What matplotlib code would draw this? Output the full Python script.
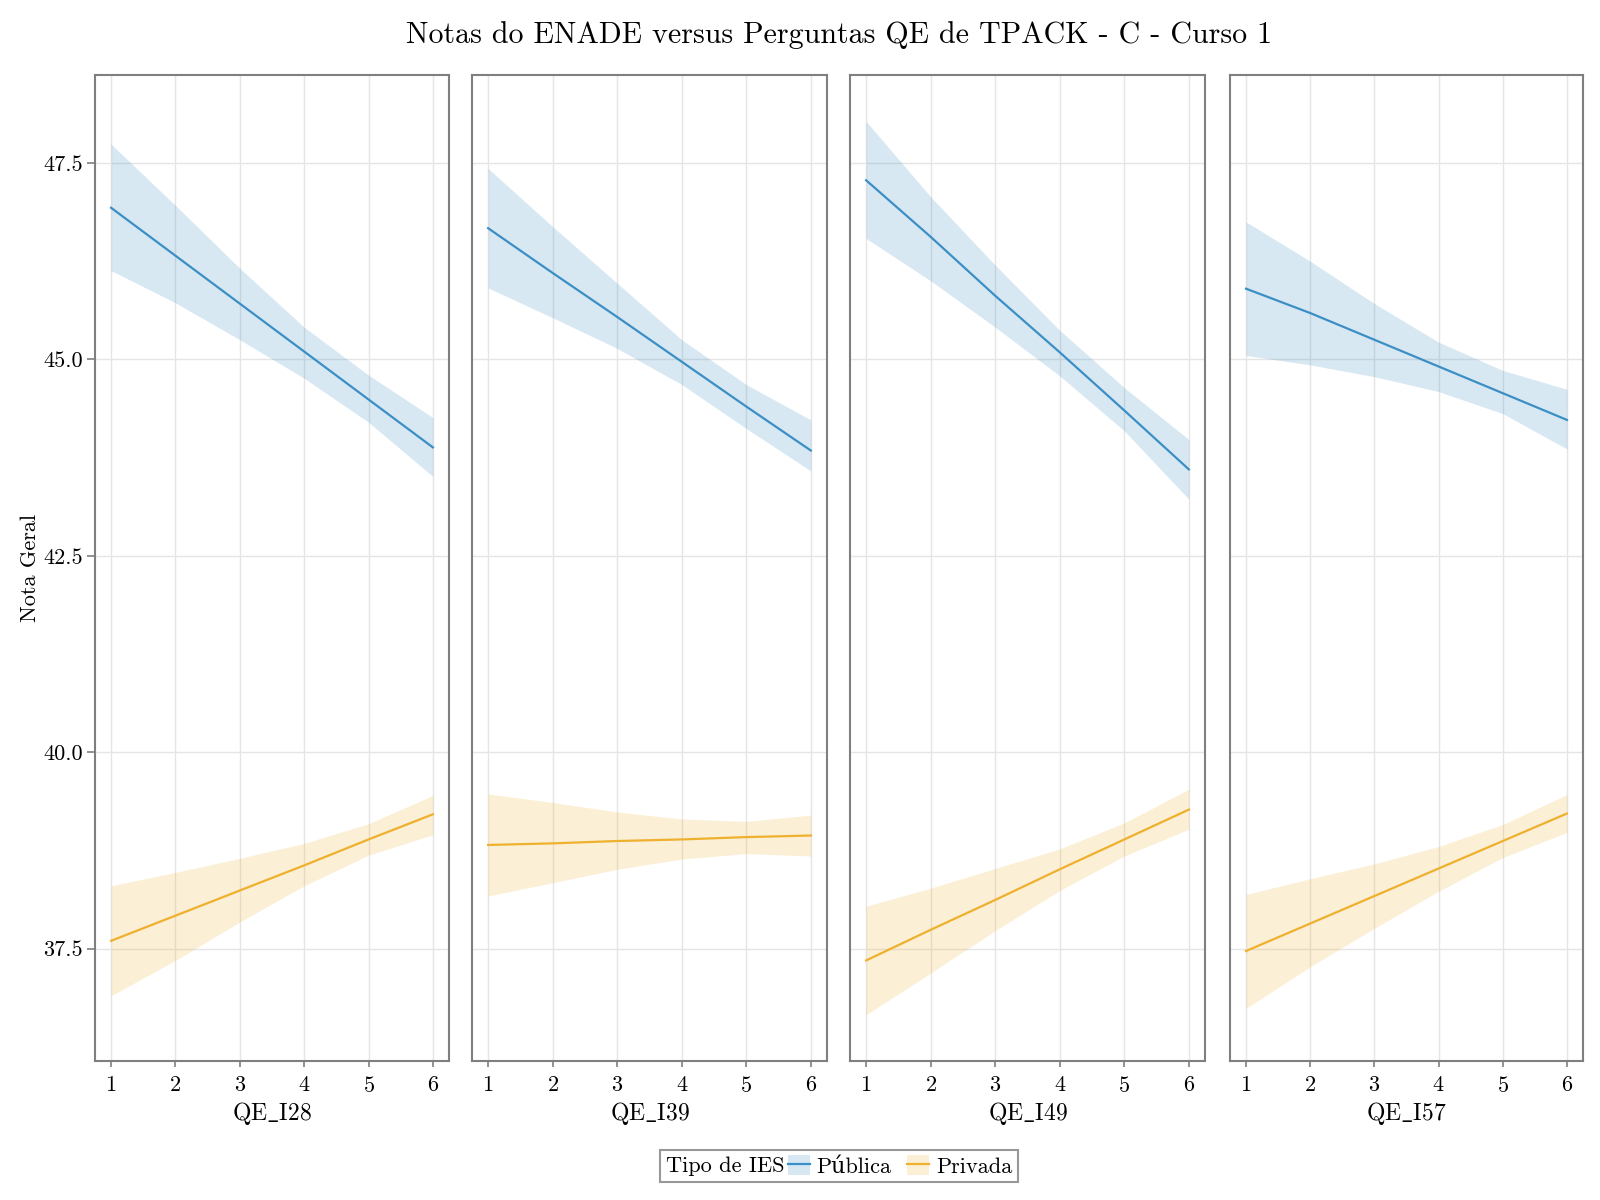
import matplotlib
matplotlib.use("Agg")
import matplotlib.pyplot as plt
from matplotlib.lines import Line2D
from matplotlib.patches import Patch
from matplotlib.offsetbox import HPacker

plt.rcParams['font.family'] = ['cmr10', 'DejaVu Serif']
plt.rcParams['mathtext.fontset'] = 'cm'
plt.rcParams['axes.formatter.use_mathtext'] = True

# ---------------- data ----------------
questions = ['QE_I28', 'QE_I39', 'QE_I49', 'QE_I57']
x_vals = [1, 2, 3, 4, 5, 6]
groups = ['Pública', 'Privada']

pub_fit = [
    [46.93, 46.32, 45.71, 45.10, 44.49, 43.88],
    [46.67, 46.10, 45.54, 44.97, 44.40, 43.84],
    [47.28, 46.56, 45.81, 45.09, 44.35, 43.60],
    [45.90, 45.59, 45.25, 44.91, 44.57, 44.23],
]
pub_hi = [
    [47.74, 46.96, 46.16, 45.41, 44.80, 44.26],
    [47.43, 46.69, 45.97, 45.25, 44.68, 44.23],
    [48.03, 47.07, 46.20, 45.37, 44.64, 43.98],
    [46.75, 46.25, 45.71, 45.22, 44.86, 44.62],
]
pub_lo = [
    [46.13, 45.72, 45.25, 44.76, 44.20, 43.51],
    [45.91, 45.53, 45.14, 44.68, 44.12, 43.58],
    [46.54, 46.00, 45.41, 44.79, 44.09, 43.22],
    [45.05, 44.93, 44.78, 44.59, 44.31, 43.86],
]
priv_fit = [
    [37.60, 37.92, 38.24, 38.56, 38.89, 39.21],
    [38.82, 38.84, 38.87, 38.89, 38.92, 38.94],
    [37.35, 37.74, 38.12, 38.51, 38.89, 39.27],
    [37.47, 37.82, 38.17, 38.52, 38.87, 39.22],
]
priv_hi = [
    [38.30, 38.47, 38.65, 38.84, 39.09, 39.45],
    [39.47, 39.36, 39.24, 39.15, 39.12, 39.20],
    [38.04, 38.27, 38.52, 38.77, 39.10, 39.53],
    [38.19, 38.39, 38.58, 38.80, 39.08, 39.46],
]
priv_lo = [
    [36.90, 37.35, 37.84, 38.30, 38.69, 38.95],
    [38.17, 38.34, 38.51, 38.64, 38.71, 38.68],
    [36.66, 37.19, 37.73, 38.24, 38.68, 39.02],
    [36.74, 37.27, 37.76, 38.23, 38.66, 38.98],
]
y_ticks = [37.5, 40.0, 42.5, 45.0, 47.5]
x_ticks = [1, 2, 3, 4, 5, 6]

title = 'Notas do ENADE versus Perguntas QE de TPACK - C - Curso 1'
y_label = 'Nota Geral'
legend_title = 'Tipo de IES'

# ---------------- style ----------------
c_pub = '#3B8FC5'
c_priv = '#EFB02E'
spine_c = '#7f7f7f'
grid_c = '#e5e5e5'
FS = 16

fig = plt.figure(figsize=(16, 12), dpi=100)
W, H = 1600, 1200
lefts = [95, 472, 850, 1230]
rights = [449, 827, 1205, 1583]
top_px, bot_px = 75, 1061

axes = []
for i, q in enumerate(questions):
    ax = fig.add_axes([lefts[i] / W, 1 - bot_px / H,
                       (rights[i] - lefts[i]) / W, (bot_px - top_px) / H])
    axes.append(ax)
    ax.fill_between(x_vals, pub_lo[i], pub_hi[i], color=c_pub, alpha=0.2, lw=0)
    ax.plot(x_vals, pub_fit[i], color=c_pub, lw=1.6)
    ax.fill_between(x_vals, priv_lo[i], priv_hi[i], color=c_priv, alpha=0.2, lw=0)
    ax.plot(x_vals, priv_fit[i], color=c_priv, lw=1.6)
    ax.set_xlim(0.75, 6.25)
    ax.set_ylim(36.07, 48.62)
    ax.set_xticks(x_ticks)
    ax.set_yticks(y_ticks)
    ax.grid(True, color=grid_c, lw=1.0)
    ax.set_axisbelow(True)
    for s in ax.spines.values():
        s.set_color(spine_c)
        s.set_linewidth(1.5)
    ax.tick_params(axis='x', direction='out', length=4.5, width=1.2,
                   color=spine_c, labelsize=FS, pad=6)
    if i == 0:
        ax.tick_params(axis='y', direction='out', length=6, width=1.2,
                       color=spine_c, labelsize=FS, pad=3)
        ax.set_yticklabels([f'{v:.1f}' for v in y_ticks])
        ax.set_ylabel(y_label, fontsize=FS, labelpad=2)
    else:
        ax.tick_params(axis='y', left=False, labelleft=False)
    ax.set_xlabel(r'$\mathrm{' + q.replace('_', r'\_') + '}$', fontsize=FS + 1, labelpad=3)

fig.text(839 / W, 1 - 35 / H, title, fontsize=21.6, ha='center', va='center')

handles = [
    (Patch(facecolor=c_pub, alpha=0.2, lw=0), Line2D([], [], color=c_pub, lw=1.6)),
    (Patch(facecolor=c_priv, alpha=0.2, lw=0), Line2D([], [], color=c_priv, lw=1.6)),
]
leg = fig.legend(handles, groups, title=legend_title, ncol=2, loc='center',
                 bbox_to_anchor=(839 / W, 1 - 1166 / H), fontsize=FS,
                 title_fontsize=FS, frameon=True, fancybox=False,
                 edgecolor=spine_c, handlelength=1.0, handleheight=1.0,
                 handletextpad=0.3, columnspacing=0.7, borderpad=0.25,
                 borderaxespad=0)
leg.get_frame().set_linewidth(1.5)
fsz = leg._fontsize
leg._legend_box = HPacker(pad=leg.borderpad * fsz, sep=0.15 * fsz, align='center',
                          children=[leg._legend_title_box, leg._legend_handle_box])
leg._legend_box.set_figure(fig)
leg._legend_box.set_offset(leg._findoffset)

fig.savefig('out.png', dpi=100)
